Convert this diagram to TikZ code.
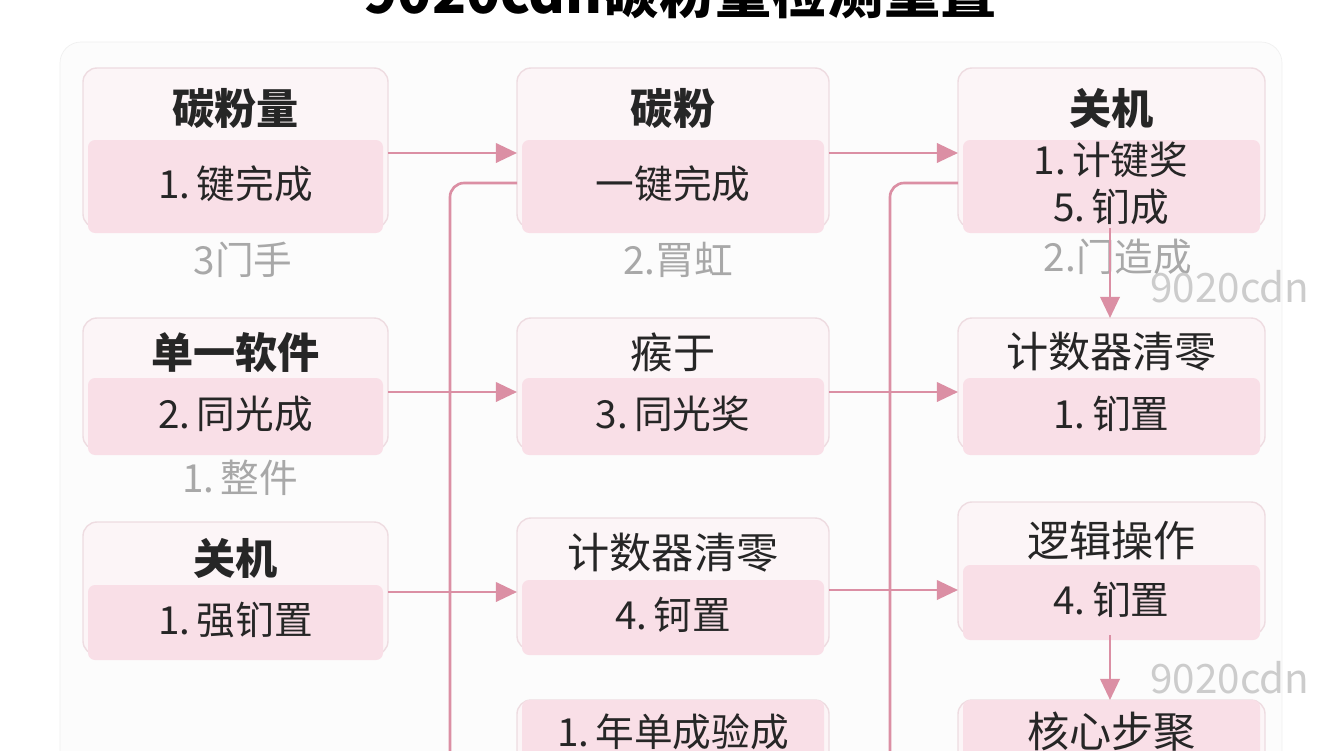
\documentclass[tikz,border=0pt]{standalone}
\usepackage{fontspec}
\setmainfont{Noto Sans CJK SC}
\usepackage{tikz}
\usetikzlibrary{calc,arrows.meta,positioning}
\definecolor{boxfill}{HTML}{FCF5F7}
\definecolor{boxline}{HTML}{EEDCE1}
\definecolor{band}{HTML}{F9DFE7}
\definecolor{flow}{HTML}{DB8FA4}
\definecolor{note}{HTML}{A8A8A8}
\tikzset{
  card/.style={draw=boxline, fill=boxfill, rounded corners=8pt, line width=0.8pt},
  strip/.style={fill=band, rounded corners=4pt},
  head/.style={font=\fontsize{24}{26}\selectfont\bfseries, text=black!85},
  item/.style={font=\fontsize{22}{24}\selectfont, text=black!85, align=center},
  note/.style={font=\fontsize{22}{24}\selectfont, text=note},
  flow/.style={draw=flow, line width=1.5pt, -{Triangle[length=12pt,width=11pt]}},
  rail/.style={draw=flow, line width=1.5pt, rounded corners=8pt}
}
% card: name, left, top, right, bottom, band top, head y, head, item
\newcommand{\card}[9]{
  \draw[card] (#2,#3) rectangle (#4,#5);
  \fill[strip] ($(#2,#6)+(5,0)$) rectangle ($(#4,#5)+(-5,5)$);
  \node[head] (#1-h) at ({(#2+#4)/2},#7) {#8};
  \node[item] (#1-i) at ({(#2+#4)/2},{(#6+#5)/2}) {#9};
}
\begin{document}
\begin{tikzpicture}[x=0.02cm,y=-0.02cm]
\useasboundingbox (0,0) rectangle (1344,750);
\fill[white] (0,0) rectangle (1344,750);
\node[font=\fontsize{32}{34}\selectfont\bfseries] (title) at (680,-8) {9020cdn碳粉量检测重置};
\draw[black!6, fill=black!1, rounded corners=12pt] (60,42) rectangle (1282,790);
% column 1
\card{a}{83}{68}{388}{228}{140}{108}{碳粉量}{1.\,键完成}
\card{b}{83}{318}{388}{450}{378}{352}{单一软件}{2.\,同光成}
\card{c}{83}{522}{388}{655}{585}{558}{关机}{1.\,强钔置}
% column 2
\card{d}{517}{68}{829}{228}{140}{108}{碳粉}{一键完成}
\card{e}{517}{318}{829}{450}{378}{352}{\mdseries 瘊于}{3.\,同光奖}
\card{f}{517}{518}{829}{650}{580}{553}{\mdseries 计数器清零}{4.\,钶置}
\card{g}{517}{700}{829}{800}{700}{732}{}{}
% column 3
\card{h}{958}{68}{1265}{228}{140}{108}{关机}{}
\card{k}{958}{318}{1265}{450}{378}{352}{\mdseries 计数器清零}{1.\,钔置}
\card{m}{958}{502}{1265}{635}{565}{540}{\mdseries 逻辑操作}{4.\,钔置}
\card{n}{958}{700}{1265}{800}{700}{732}{\mdseries 核心步聚}{}
\node[item] (h-i1) at (1111,160) {1.\,计键奖};
\node[item] (h-i2) at (1111,207) {5.\,钔成};
\node[item] (g-i) at (673,732) {1.\,年单成验成};
% notes
\node[note] (na) at (243,260) {3门手};
\node[note] (nd) at (678,260) {2.罥虹};
\node[note] (nh) at (1118,257) {2.门造成};
\node[note] (nb) at (240,478) {1.\,整件};
\node[note, font=\fontsize{23}{25}\selectfont, text=black!20] (w1) at (1230,287) {9020cdn};
\node[note, font=\fontsize{23}{25}\selectfont, text=black!20] (w2) at (1230,678) {9020cdn};
% connectors
\draw[flow] (388,153) -- (517,153);
\draw[flow] (829,153) -- (958,153);
\draw[flow] (388,392) -- (517,392);
\draw[flow] (829,392) -- (958,392);
\draw[flow] (388,592) -- (517,592);
\draw[flow] (829,590) -- (958,590);
\draw[rail] (517,183) -- (450,183) -- (450,760);
\draw[rail] (958,183) -- (890,183) -- (890,760);
\draw[flow] (1110,228) -- (1110,318);
\draw[flow] (1110,635) -- (1110,700);
\end{tikzpicture}
\end{document}
